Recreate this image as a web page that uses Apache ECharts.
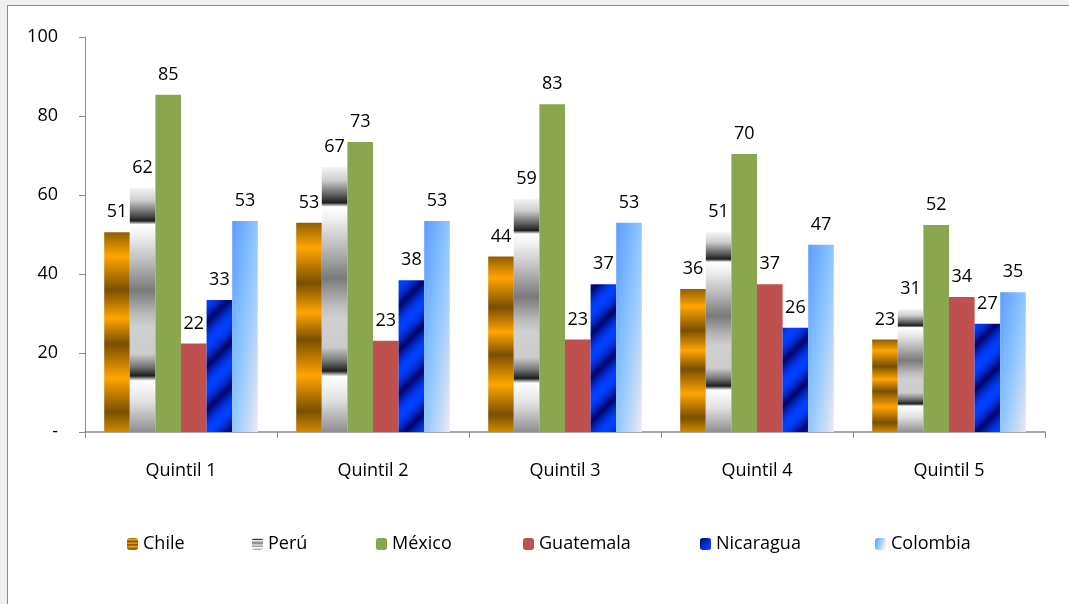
<!DOCTYPE html>
<html>
<head>
<meta charset="utf-8">
<script src="https://cdn.jsdelivr.net/npm/echarts@6/dist/echarts.min.js"></script>
<style>
html,body{margin:0;padding:0;background:#f0f0f0;}
#frame{position:absolute;left:7px;top:5px;width:1062px;height:599px;background:#fff;border-left:1px solid #8c8c8c;border-top:1px solid #8c8c8c;}
#chart{position:absolute;left:0;top:0;width:1069px;height:604px;}
</style>
</head>
<body>
<div id="frame"></div>
<div id="chart"></div>
<script>
const categories = ['Quintil 1','Quintil 2','Quintil 3','Quintil 4','Quintil 5'];
const seriesNames = ['Chile','Perú','México','Guatemala','Nicaragua','Colombia'];
const chile     = [50.6, 53.0, 44.4, 36.2, 23.4];
const peru      = [61.8, 67.1, 59.0, 50.6, 31.1];
const mexico    = [85.4, 73.4, 83.0, 70.4, 52.4];
const guatemala = [22.4, 23.1, 23.4, 37.4, 34.2];
const nicaragua = [33.4, 38.4, 37.4, 26.4, 27.4];
const colombia  = [53.4, 53.4, 53.0, 47.4, 35.4];
const yTicks = [0, 20, 40, 60, 80, 100];

const FONT = '"Open Sans", Lato, sans-serif';
const FS = 18;

function lin(x, y, x2, y2, stops) {
  return new echarts.graphic.LinearGradient(x, y, x2, y2,
    stops.map(s => ({offset: s[0], color: s[1]})));
}

const chileFill = lin(0, 0, 0, 1, [
  [0, '#8f5e00'], [0.12, '#ffa500'], [0.29, '#7a4f00'], [0.43, '#ffa500'],
  [0.56, '#7a4f00'], [0.73, '#ffa500'], [0.9, '#7a4f00'], [1, '#d08a00']
]);
const peruFill = lin(0, 0, 0, 1, [
  [0, '#f4f4f4'], [0.05, '#cfcfcf'], [0.1, '#6a6a6a'], [0.135, '#1e1e1e'],
  [0.15, '#ffffff'], [0.2, '#eeeeee'], [0.3, '#bdbdbd'], [0.42, '#7a7a7a'],
  [0.52, '#bbbbbb'], [0.57, '#d0d0d0'], [0.68, '#cccccc'], [0.73, '#7a7a7a'],
  [0.77, '#1e1e1e'], [0.79, '#ffffff'], [0.88, '#e0e0e0'], [1, '#8f8f8f']
]);

function makeStripeCanvas() {
  const P = 44;
  const c = document.createElement('canvas');
  c.width = P; c.height = P;
  const ctx = c.getContext('2d');
  const img = ctx.createImageData(P, P);
  const dark = [0, 6, 110], bright = [0, 64, 255];
  for (let y = 0; y < P; y++) {
    for (let x = 0; x < P; x++) {
      const t = ((x + y) % P) / P;
      let k = 0.5 - 0.5 * Math.cos(t * 2 * Math.PI);
      k = Math.pow(k, 0.55);
      const i = (y * P + x) * 4;
      for (let j = 0; j < 3; j++) img.data[i + j] = Math.round(dark[j] + (bright[j] - dark[j]) * k);
      img.data[i + 3] = 255;
    }
  }
  ctx.putImageData(img, 0, 0);
  return c;
}
const nicaFill = {image: makeStripeCanvas(), repeat: 'repeat'};

const colStops = [[0, '#5d9bff'], [0.35, '#7fbbff'], [0.55, '#98cbff'], [0.8, '#c8dcf2'], [1, '#f7e8f7']];
const colSeriesFill = lin(0, 0, 1, 0.3, colStops);
function colombiaData() {
  const w = 25.6;
  return colombia.map(v => {
    const h = v * 3.95;
    const r = (w * w) / (h * h);
    return {value: v, itemStyle: {color: lin(0, 0, 2, 2 * r, colStops)}};
  });
}

const labelCfg = {
  show: true, position: 'top', distance: 11, color: '#000',
  fontFamily: FONT, fontSize: FS,
  formatter: p => Math.round(p.value)
};

function bar(name, data, color) {
  return {
    name, type: 'bar', data, barGap: '0%', barCategoryGap: '20%',
    itemStyle: {color}, label: labelCfg, emphasis: {disabled: true}
  };
}

const legendLefts = [127, 252, 376, 523, 700, 875];
const legends = seriesNames.map((n, i) => ({
  data: [n], left: legendLefts[i], top: 535, padding: 0,
  itemWidth: 11, itemHeight: 12, itemGap: 0,
  textStyle: {fontFamily: FONT, fontSize: FS, color: '#000', padding: [0, 0, 0, 0]},
  selectedMode: false
}));

const chart = echarts.init(document.getElementById('chart'), null, {renderer: 'canvas'});
chart.setOption({
  backgroundColor: 'transparent',
  animation: false,
  legend: legends,
  grid: {left: 85, top: 37, width: 960, height: 395, containLabel: false},
  xAxis: {
    type: 'category', data: categories,
    axisLine: {lineStyle: {color: '#8c8c8c', width: 1.5}},
    axisTick: {show: true, length: 6, lineStyle: {color: '#8c8c8c'}},
    axisLabel: {color: '#000', fontFamily: FONT, fontSize: FS, margin: 30}
  },
  yAxis: {
    type: 'value', min: yTicks[0], max: yTicks[yTicks.length - 1], interval: 20,
    axisLine: {show: true, lineStyle: {color: '#8c8c8c'}},
    axisTick: {show: true, length: 6, lineStyle: {color: '#8c8c8c'}},
    splitLine: {show: false},
    axisLabel: {color: '#000', fontFamily: FONT, fontSize: FS, margin: 27,
      formatter: v => v === 0 ? '-' : String(v)}
  },
  series: [
    bar('Chile', chile, chileFill),
    bar('Perú', peru, peruFill),
    bar('México', mexico, '#8aa64e'),
    bar('Guatemala', guatemala, '#c0504d'),
    bar('Nicaragua', nicaragua, nicaFill),
    bar('Colombia', colombiaData(), colSeriesFill)
  ]
});
</script>
</body>
</html>
